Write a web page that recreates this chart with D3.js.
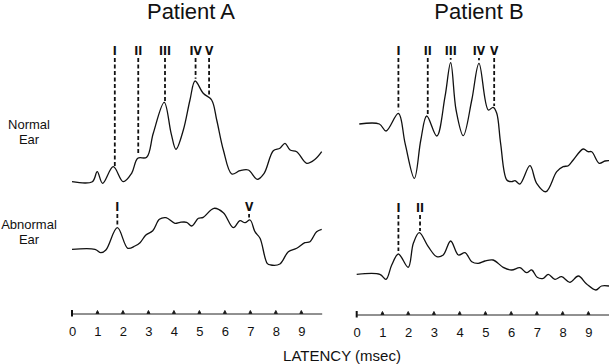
<!DOCTYPE html>
<html>
<head>
<meta charset="utf-8">
<script src="https://cdnjs.cloudflare.com/ajax/libs/d3/7.8.5/d3.min.js"></script>
<style>
  body { margin: 0; background: #fff; }
  text { font-family: "Liberation Sans", Arial, sans-serif; fill: #111; }
  .wave { fill: none; stroke: #111; stroke-width: 1.3; stroke-linejoin: round; }
  .marker { stroke: #111; stroke-width: 1.8; stroke-dasharray: 4,2.5; }
  .roman { font-family: "Liberation Sans Narrow", "DejaVu Sans Condensed", sans-serif; font-weight: bold; font-size: 12px; }
  .axis path { stroke: #222; stroke-width: 1; }
  .axis text { font-size: 13px; }
</style>
</head>
<body>
<div id="chart"></div>
<script>
// ---- data: [latency (msec), amplitude (arbitrary units, 0 = baseline)] ----
var latencyTicks = [0, 1, 2, 3, 4, 5, 6, 7, 8, 9];
var patients = ['Patient A', 'Patient B'];
var rowLabels = [['Normal', 'Ear'], ['Abnormal', 'Ear']];

var normalA = [[0,0],[0.8,0],[0.99,1.0],[1.2,-0.16],[1.62,1.5],[2.01,0],[2.34,0.84],[2.58,2.34],
  [2.93,2.44],[3.19,4.84],[3.62,7.94],[3.89,4.84],[4.08,3.24],[4.37,5.17],[4.63,8.17],[4.83,10.07],
  [5.15,8.84],[5.48,8.17],[5.68,6.17],[5.94,3.17],[6.27,0.77],[6.59,1.1],[6.92,1.17],[7.27,0.24],
  [7.54,0.84],[7.9,3.1],[8.16,3.34],[8.36,3.84],[8.56,3.17],[8.82,3.0],[9.21,1.84],[9.54,2.24],[9.8,3.0]];

var abnormalA = [[0,0],[0.9,0],[1.13,-0.34],[1.33,-0.07],[1.78,2.16],[2.19,0.1],[2.47,0.33],[2.67,0.66],
  [2.9,1.43],[3.17,1.86],[3.43,3.0],[3.69,3.16],[4.04,2.6],[4.24,2.7],[4.5,2.7],[4.7,2.33],[4.96,3.1],
  [5.15,3.2],[5.57,4.1],[5.94,3.66],[6.33,2.16],[6.59,2.86],[6.79,2.66],[6.99,2.93],[7.18,1.76],[7.38,1.1],
  [7.66,-1.4],[7.8,-1.57],[8.16,-1.47],[8.49,-0.24],[8.82,0.1],[9.14,0.66],[9.34,0.76],[9.6,1.76],[9.8,2.0]];

var normalB = [[0.1,0],[0.88,0],[1.14,-0.7],[1.62,1.07],[1.88,-1.93],[2.24,-5.43],[2.49,-1.6],[2.72,0.8],
  [3.11,-1.2],[3.43,2.73],[3.65,6.13],[3.86,1.4],[4.14,-1.17],[4.47,2.4],[4.75,6.07],[5.11,1.4],[5.3,1.67],
  [5.44,1.07],[5.59,-1.93],[5.83,-5.6],[6.02,-5.77],[6.15,-5.67],[6.34,-6.0],[6.73,-4.17],[6.99,-5.93],
  [7.35,-6.77],[7.77,-4.77],[8.02,-4.27],[8.22,-4.17],[8.41,-3.6],[8.8,-2.5],[8.99,-2.77],[9.13,-2.77],
  [9.42,-3.93],[9.64,-3.7],[9.8,-3.67]];

var abnormalB = [[0,0],[0.9,0],[1.14,-0.5],[1.36,0.93],[1.62,2.03],[2.0,0.7],[2.2,3.1],[2.43,4.16],
  [2.78,2.76],[3.11,1.76],[3.36,1.93],[3.65,3.33],[3.95,1.93],[4.21,2.16],[4.47,1.26],[4.72,1.1],[4.98,1.33],
  [5.3,1.43],[5.69,0.7],[6.02,0.43],[6.34,0.66],[6.6,0.16],[6.8,0.43],[7.01,-0.3],[7.25,-0.4],[7.44,0],
  [7.7,-0.5],[7.96,-0.24],[8.28,-0.8],[8.61,-0.17],[8.93,-0.97],[9.29,-1.57],[9.51,-1.17],[9.8,-1.17]];

// wave markers (roman numeral labels and their latencies)
var waveLabels = ['I', 'II', 'III', 'IV', 'V'];
var peaksNormalA = [1.68, 2.6, 3.65, 4.85, 5.38];
var peaksNormalB = [1.62, 2.76, 3.65, 4.75, 5.34];
var labelsAbnormalA = ['I', 'V'];
var peaksAbnormalA = [1.78, 6.95];
var labelsAbnormalB = ['I', 'II'];
var peaksAbnormalB = [1.62, 2.46];

// ---- layout ----
const WIDTH = 609, HEIGHT = 364;
const PX_PER_UNIT = 10;
var panelLayout = [
  {x0: 72, x1: 321.7, titleX: 191, axisY: 313.5},
  {x0: 356.7, x1: 609, titleX: 479, axisY: 314.5}
];
var traces = [
  {panel: 0, data: normalA, base: 181.7, labels: waveLabels, peaks: peaksNormalA, labelY: 55},
  {panel: 0, data: abnormalA, base: 249.3, labels: labelsAbnormalA, peaks: peaksAbnormalA, labelY: 211},
  {panel: 1, data: normalB, base: 124, labels: waveLabels, peaks: peaksNormalB, labelY: 55},
  {panel: 1, data: abnormalB, base: 274.3, labels: labelsAbnormalB, peaks: peaksAbnormalB, labelY: 212}
];

var svg = d3.select('#chart').append('svg')
            .attr('width', WIDTH)
            .attr('height', HEIGHT);

// x scales, one per patient
var xScales = panelLayout.map(p => d3.scaleLinear().domain([0, 9.8]).range([p.x0, p.x1]));

// titles
svg.selectAll('text.title').data(patients)
   .enter()
   .append('text')
   .classed('title', true)
   .attr('x', (d, i) => panelLayout[i].titleX)
   .attr('y', 19)
   .attr('text-anchor', 'middle')
   .attr('font-size', 22)
   .text(d => d);

// row labels on the left
var rowY = [124, 224];
rowLabels.forEach(function (lines, r) {
  svg.append('text')
     .attr('x', 29)
     .attr('y', rowY[r])
     .attr('text-anchor', 'middle')
     .attr('font-size', 13)
     .selectAll('tspan').data(lines)
     .enter()
     .append('tspan')
     .attr('x', 29)
     .attr('dy', (d, i) => i == 0 ? '0.35em' : '1.2em')
     .text(d => d);
});

// value of a trace at latency t (linear between samples)
function valueAt(data, t) {
  var i = d3.bisector(d => d[0]).left(data, t);
  if (i <= 0) return data[0][1];
  if (i >= data.length) return data[data.length - 1][1];
  var a = data[i - 1], b = data[i];
  return a[1] + (b[1] - a[1]) * (t - a[0]) / (b[0] - a[0]);
}

// waveforms and markers
traces.forEach(function (tr) {
  var x = xScales[tr.panel];
  var y = d3.scaleLinear().domain([0, 1]).range([tr.base, tr.base - PX_PER_UNIT]);

  var line = d3.line()
               .x(d => x(d[0]))
               .y(d => y(d[1]))
               .curve(d3.curveCatmullRom.alpha(0.5));

  svg.append('path')
     .datum(tr.data)
     .classed('wave', true)
     .attr('d', line);

  var marks = tr.peaks.map((t, i) => ({t: t, label: tr.labels[i]}));

  var g = svg.selectAll(null).data(marks)
             .enter()
             .append('g');

  g.append('line')
   .classed('marker', true)
   .attr('x1', d => x(d.t))
   .attr('x2', d => x(d.t))
   .attr('y1', tr.labelY + 3)
   .attr('y2', d => y(valueAt(tr.data, d.t)) - 3);

  g.append('text')
   .classed('roman', true)
   .attr('x', d => x(d.t))
   .attr('y', tr.labelY)
   .attr('text-anchor', 'middle')
   .text(d => d.label);
});

// latency axes
panelLayout.forEach(function (p, i) {
  var x = xScales[i];
  var axis = svg.append('g')
                .classed('axis', true)
                .attr('transform', 'translate(0,' + p.axisY + ')')
                .call(d3.axisBottom(x).tickValues(latencyTicks).tickSize(0).tickSizeOuter(0).tickPadding(13));

  // small triangular tick marks above the line
  axis.selectAll('path.tri').data(latencyTicks.slice(1))
      .enter()
      .append('path')
      .classed('tri', true)
      .attr('d', d => 'M' + (x(d) - 1.5) + ',0L' + x(d) + ',-3L' + (x(d) + 1.5) + ',0Z')
      .attr('fill', '#111');

  // origin bar
  axis.append('line')
      .attr('x1', x(0)).attr('x2', x(0))
      .attr('y1', -3.5).attr('y2', 3)
      .attr('stroke', '#111')
      .attr('stroke-width', 2);
});

svg.append('text')
   .attr('x', 342)
   .attr('y', 361)
   .attr('text-anchor', 'middle')
   .attr('font-size', 15)
   .text('LATENCY (msec)');
</script>
</body>
</html>
